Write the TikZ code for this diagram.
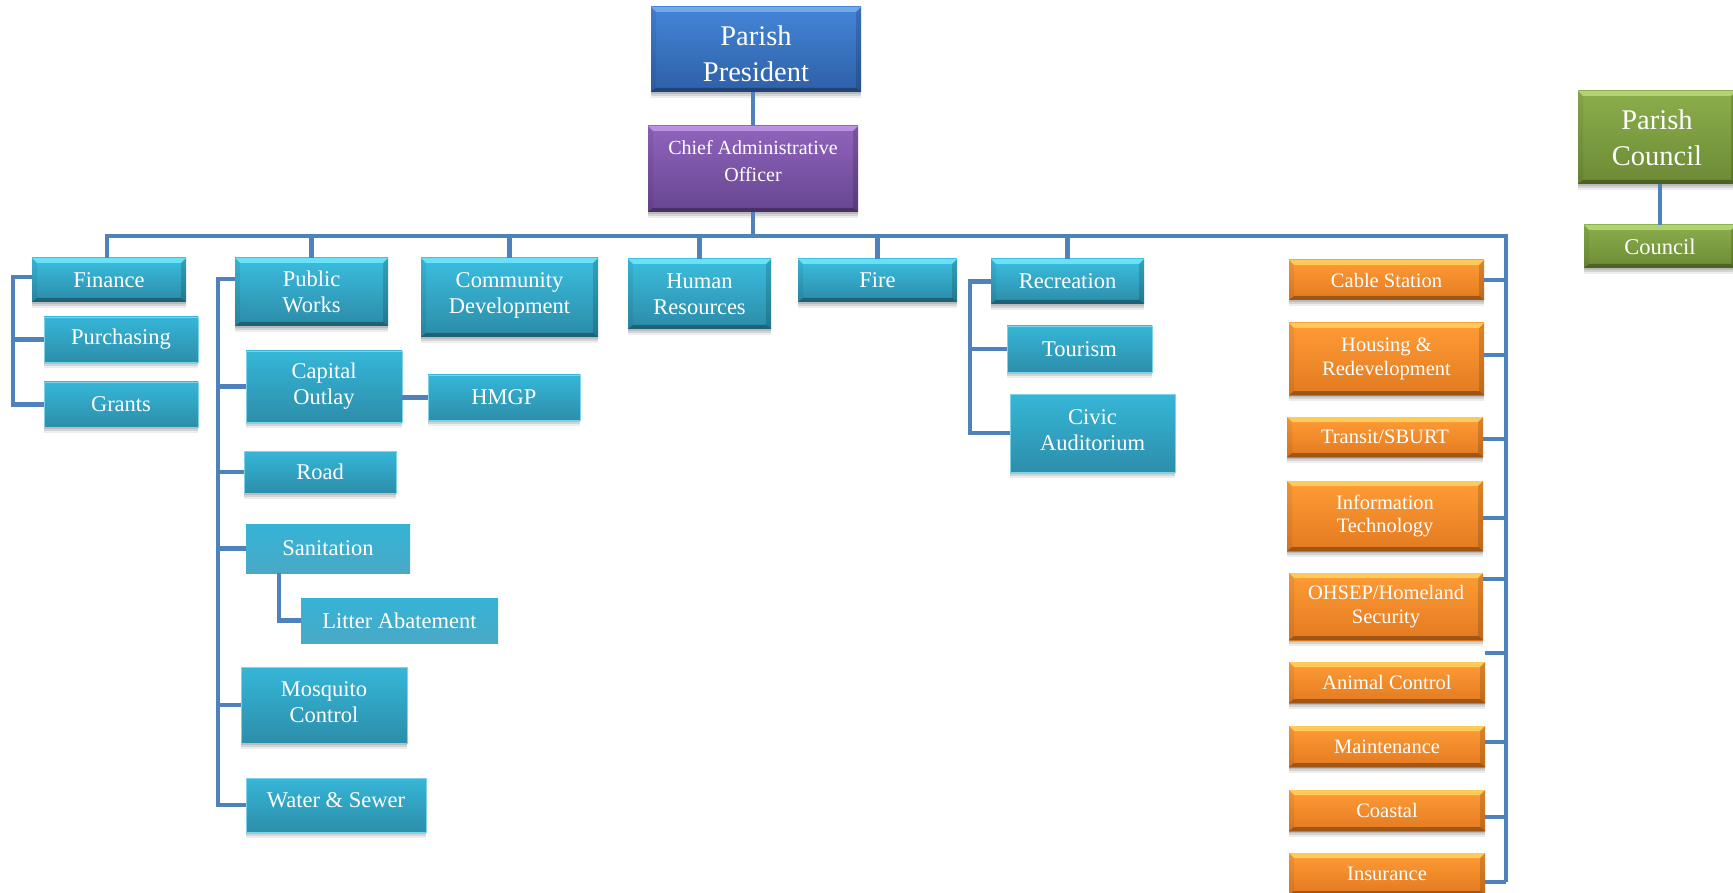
\documentclass[tikz,border=0pt]{standalone}
\usepackage{fontspec}
\setmainfont{Liberation Serif}
\usetikzlibrary{shadows,calc}
\definecolor{conn}{HTML}{4F81BD}
\definecolor{cyT}{HTML}{3BBEDF}
\definecolor{cyB}{HTML}{2B8BA7}
\definecolor{cyH}{HTML}{6FE9FF}
\definecolor{cyT2}{HTML}{36B6D8}
\definecolor{cyB2}{HTML}{2C8EAA}
\definecolor{cyE}{HTML}{7FD3E8}
\definecolor{cyT3}{HTML}{34B3D6}
\definecolor{cyB3}{HTML}{4AA9C6}
\definecolor{blT}{HTML}{4485D8}
\definecolor{blB}{HTML}{2E60A6}
\definecolor{blH}{HTML}{78AEF2}
\definecolor{puT}{HTML}{9064BC}
\definecolor{puB}{HTML}{674590}
\definecolor{puH}{HTML}{C39BEA}
\definecolor{orT}{HTML}{FF9C36}
\definecolor{orB}{HTML}{E27A20}
\definecolor{orH}{HTML}{FFD45E}
\definecolor{grT}{HTML}{8BAE4C}
\definecolor{grB}{HTML}{6C8A35}
\definecolor{grH}{HTML}{B8DA78}
\newcommand\fntBig{\fontsize{28.5}{36}\selectfont}
\newcommand\fntCao{\fontsize{20}{27}\selectfont}
\newcommand\fntCyan{\fontsize{22.5}{26}\selectfont}
\newcommand\fntOr{\fontsize{20.5}{23.5}\selectfont}
\newcommand\fntCou{\fontsize{22.5}{26}\selectfont}
\begin{document}
\begin{tikzpicture}[x=1pt,y=-1pt,
  base/.style={rectangle, inner sep=0pt, outer sep=0pt, text=white, align=center},
  txt/.style={inner sep=0pt, text=white, align=center},
  sz/.style 2 args={minimum width=#1pt, minimum height=#2pt},
  shad/.style={
    drop shadow={shadow xshift=0pt, shadow yshift=-2pt, opacity=0.12, fill=black},
    drop shadow={shadow xshift=0pt, shadow yshift=-4pt, opacity=0.10, fill=black},
    drop shadow={shadow xshift=0pt, shadow yshift=-6pt, opacity=0.07, fill=black}},
  bevel/.style={path picture={
    \fill[#1,opacity=0.85] (path picture bounding box.north west) -- (path picture bounding box.north east)
      -- ([shift={(-5pt,-5pt)}]path picture bounding box.north east) -- ([shift={(5pt,-5pt)}]path picture bounding box.north west) -- cycle;
    \fill[black,opacity=0.30] (path picture bounding box.south west) -- (path picture bounding box.south east)
      -- ([shift={(-5pt,4pt)}]path picture bounding box.south east) -- ([shift={(5pt,4pt)}]path picture bounding box.south west) -- cycle;
    \fill[black,opacity=0.06] (path picture bounding box.north west) -- ([shift={(5pt,-5pt)}]path picture bounding box.north west)
      -- ([shift={(5pt,4pt)}]path picture bounding box.south west) -- (path picture bounding box.south west) -- cycle;
    \fill[black,opacity=0.15] (path picture bounding box.north east) -- ([shift={(-5pt,-5pt)}]path picture bounding box.north east)
      -- ([shift={(-5pt,4pt)}]path picture bounding box.south east) -- (path picture bounding box.south east) -- cycle;
  }},
  bluebox/.style={base, shad, bevel=blH, top color=blT, bottom color=blB, font=\fntBig},
  purplebox/.style={base, shad, bevel=puH, top color=puT, bottom color=puB, font=\fntCao},
  cyanA/.style={base, shad, bevel=cyH, top color=cyT, bottom color=cyB, font=\fntCyan},
  cyanB/.style={base, shad, top color=cyT2, bottom color=cyB2, draw=cyE, line width=0.8pt, font=\fntCyan},
  cyanC/.style={base, top color=cyT3, bottom color=cyB3, font=\fntCyan},
  orbox/.style={base, shad, bevel=orH, top color=orT, bottom color=orB, font=\fntOr},
  grbig/.style={base, shad, bevel=grH, top color=grT, bottom color=grB, font=\fntBig},
  grbox/.style={base, shad, bevel=grH, top color=grT, bottom color=grB, font=\fntCou},
  link/.style={draw=conn, line width=4.5pt}
]
\fill[white] (0,0) rectangle (1733,893);
\useasboundingbox (0,0) rectangle (1733,893);

% top
\node[bluebox, sz={210}{85}] (pres) at (756,49.5) {};
\node[txt, font=\fntBig] (pres-t) at ($(pres)+(0,4.5)$) {Parish\\President};
\node[purplebox, sz={210}{86}] (cao) at (753,169) {};
\node[txt, font=\fntCao] (cao-t) at ($(cao)+(0,-8)$) {Chief Administrative\\Officer};

% first level
\node[cyanA, sz={154}{44}] (fin) at (109,280) {Finance};
\node[cyanA, sz={153}{68}] (pw) at (311.5,292) {Public\\Works};
\node[cyanA, sz={177}{79}] (cd) at (509.5,297.5) {};
\node[txt, font=\fntCyan] (cd-t) at ($(cd)+(0,-2)$) {Community\\Development};
\node[cyanA, sz={143}{70}] (hr) at (699.5,294) {Human\\Resources};
\node[cyanA, sz={159}{43}] (fire) at (877.5,280.5) {Fire};
\node[cyanA, sz={153}{45}] (rec) at (1067.5,281.5) {Recreation};

% finance group
\node[cyanB, sz={154}{45}] (pur) at (121,339.5) {Purchasing};
\node[cyanB, sz={154}{45}] (gra) at (121,404.5) {Grants};

% public works group
\node[cyanB, sz={156}{71}] (co) at (324,386.5) {Capital\\Outlay};
\node[cyanB, sz={152}{45}] (hmgp) at (504,397.5) {HMGP};
\node[cyanB, sz={152}{42}] (road) at (320,472) {Road};
\node[cyanC, sz={164}{49}] (san) at (328,548.5) {Sanitation};
\node[cyanC, sz={197}{45}] (lit) at (399.5,620.5) {Litter Abatement};
\node[cyanB, sz={166}{76}] (mos) at (324,705) {};
\node[txt, font=\fntCyan] (mos-t) at ($(mos)+(0,-3)$) {Mosquito\\Control};
\node[cyanB, sz={180}{54}] (ws) at (336,805) {};
\node[txt, font=\fntCyan] (ws-t) at ($(ws)+(0,-5)$) {Water \& Sewer};

% recreation group
\node[cyanB, sz={145}{46}] (tour) at (1079.5,349) {Tourism};
\node[cyanB, sz={165}{78}] (civ) at (1092.5,433) {};
\node[txt, font=\fntCyan] (civ-t) at ($(civ)+(0,-3)$) {Civic\\Auditorium};

% orange group
\node[orbox, sz={195}{40}] (cab) at (1386.5,280) {Cable Station};
\node[orbox, sz={195}{72}] (hou) at (1386.5,359) {Housing \&\\Redevelopment};
\node[orbox, sz={196}{40}] (tra) at (1385,437) {Transit/SBURT};
\node[orbox, sz={196}{70}] (it) at (1385,516) {Information\\Technology};
\node[orbox, sz={194}{67}] (oh) at (1386,606.5) {OHSEP/Homeland\\Security};
\node[orbox, sz={196}{41}] (ac) at (1387,682.5) {Animal Control};
\node[orbox, sz={196}{41}] (mai) at (1387,746.5) {Maintenance};
\node[orbox, sz={196}{41}] (coa) at (1387,810.5) {Coastal};
\node[orbox, sz={196}{42}] (ins) at (1387,874) {Insurance};

% council
\node[grbig, sz={158}{93}] (pc) at (1657,137.5) {Parish\\Council};
\node[grbox, sz={152}{43}] (cou) at (1660,246.5) {Council};

% connectors
\coordinate (barR) at (1506,236);
\coordinate (ospB) at (1506,882);
\draw[link] (cao.north) -- (cao.north |- pres.south);
\draw[link] (cao.south) -- (cao.south |- barR);
\draw[link] ([xshift=-2pt]fin.north) |- (barR) -- (ospB);
\foreach \n in {pw,cd,hr,fire,rec}{
  \draw[link] (\n.north) -- (\n.north |- barR);
}
% finance
\draw[link] ([yshift=3pt]fin.west) -- ++(-19,0) coordinate (fsp) |- (gra.west);
\draw[link] (pur.west) -- (pur.west -| fsp);
% public works
\draw[link] ([yshift=13pt]pw.west) -- ++(-17,0) coordinate (psp) |- (ws.west);
\foreach \n in {co,road,san,mos}{
  \draw[link] (\n.west) -- (\n.west -| psp);
}
\draw[link] (hmgp.west) -- (hmgp.west -| co.east);
\draw[link] ([xshift=33pt]san.south west) |- (lit.west);
% recreation
\draw[link] (rec.west) -- ++(-21,0) coordinate (rsp) |- (civ.west);
\draw[link] (tour.west) -- (tour.west -| rsp);
% orange stubs
\foreach \n/\s in {cab/0,hou/4,tra/-2,it/-2,oh/27.5,ac/29.5,mai/4.5,coa/-6.5,ins/-8}{
  \draw[link] ([yshift=\s pt]\n.east) -- ([yshift=\s pt]\n.east -| barR);
}
% council
\draw[link] (cou.north) -- (cou.north |- pc.south);
\end{tikzpicture}
\end{document}
